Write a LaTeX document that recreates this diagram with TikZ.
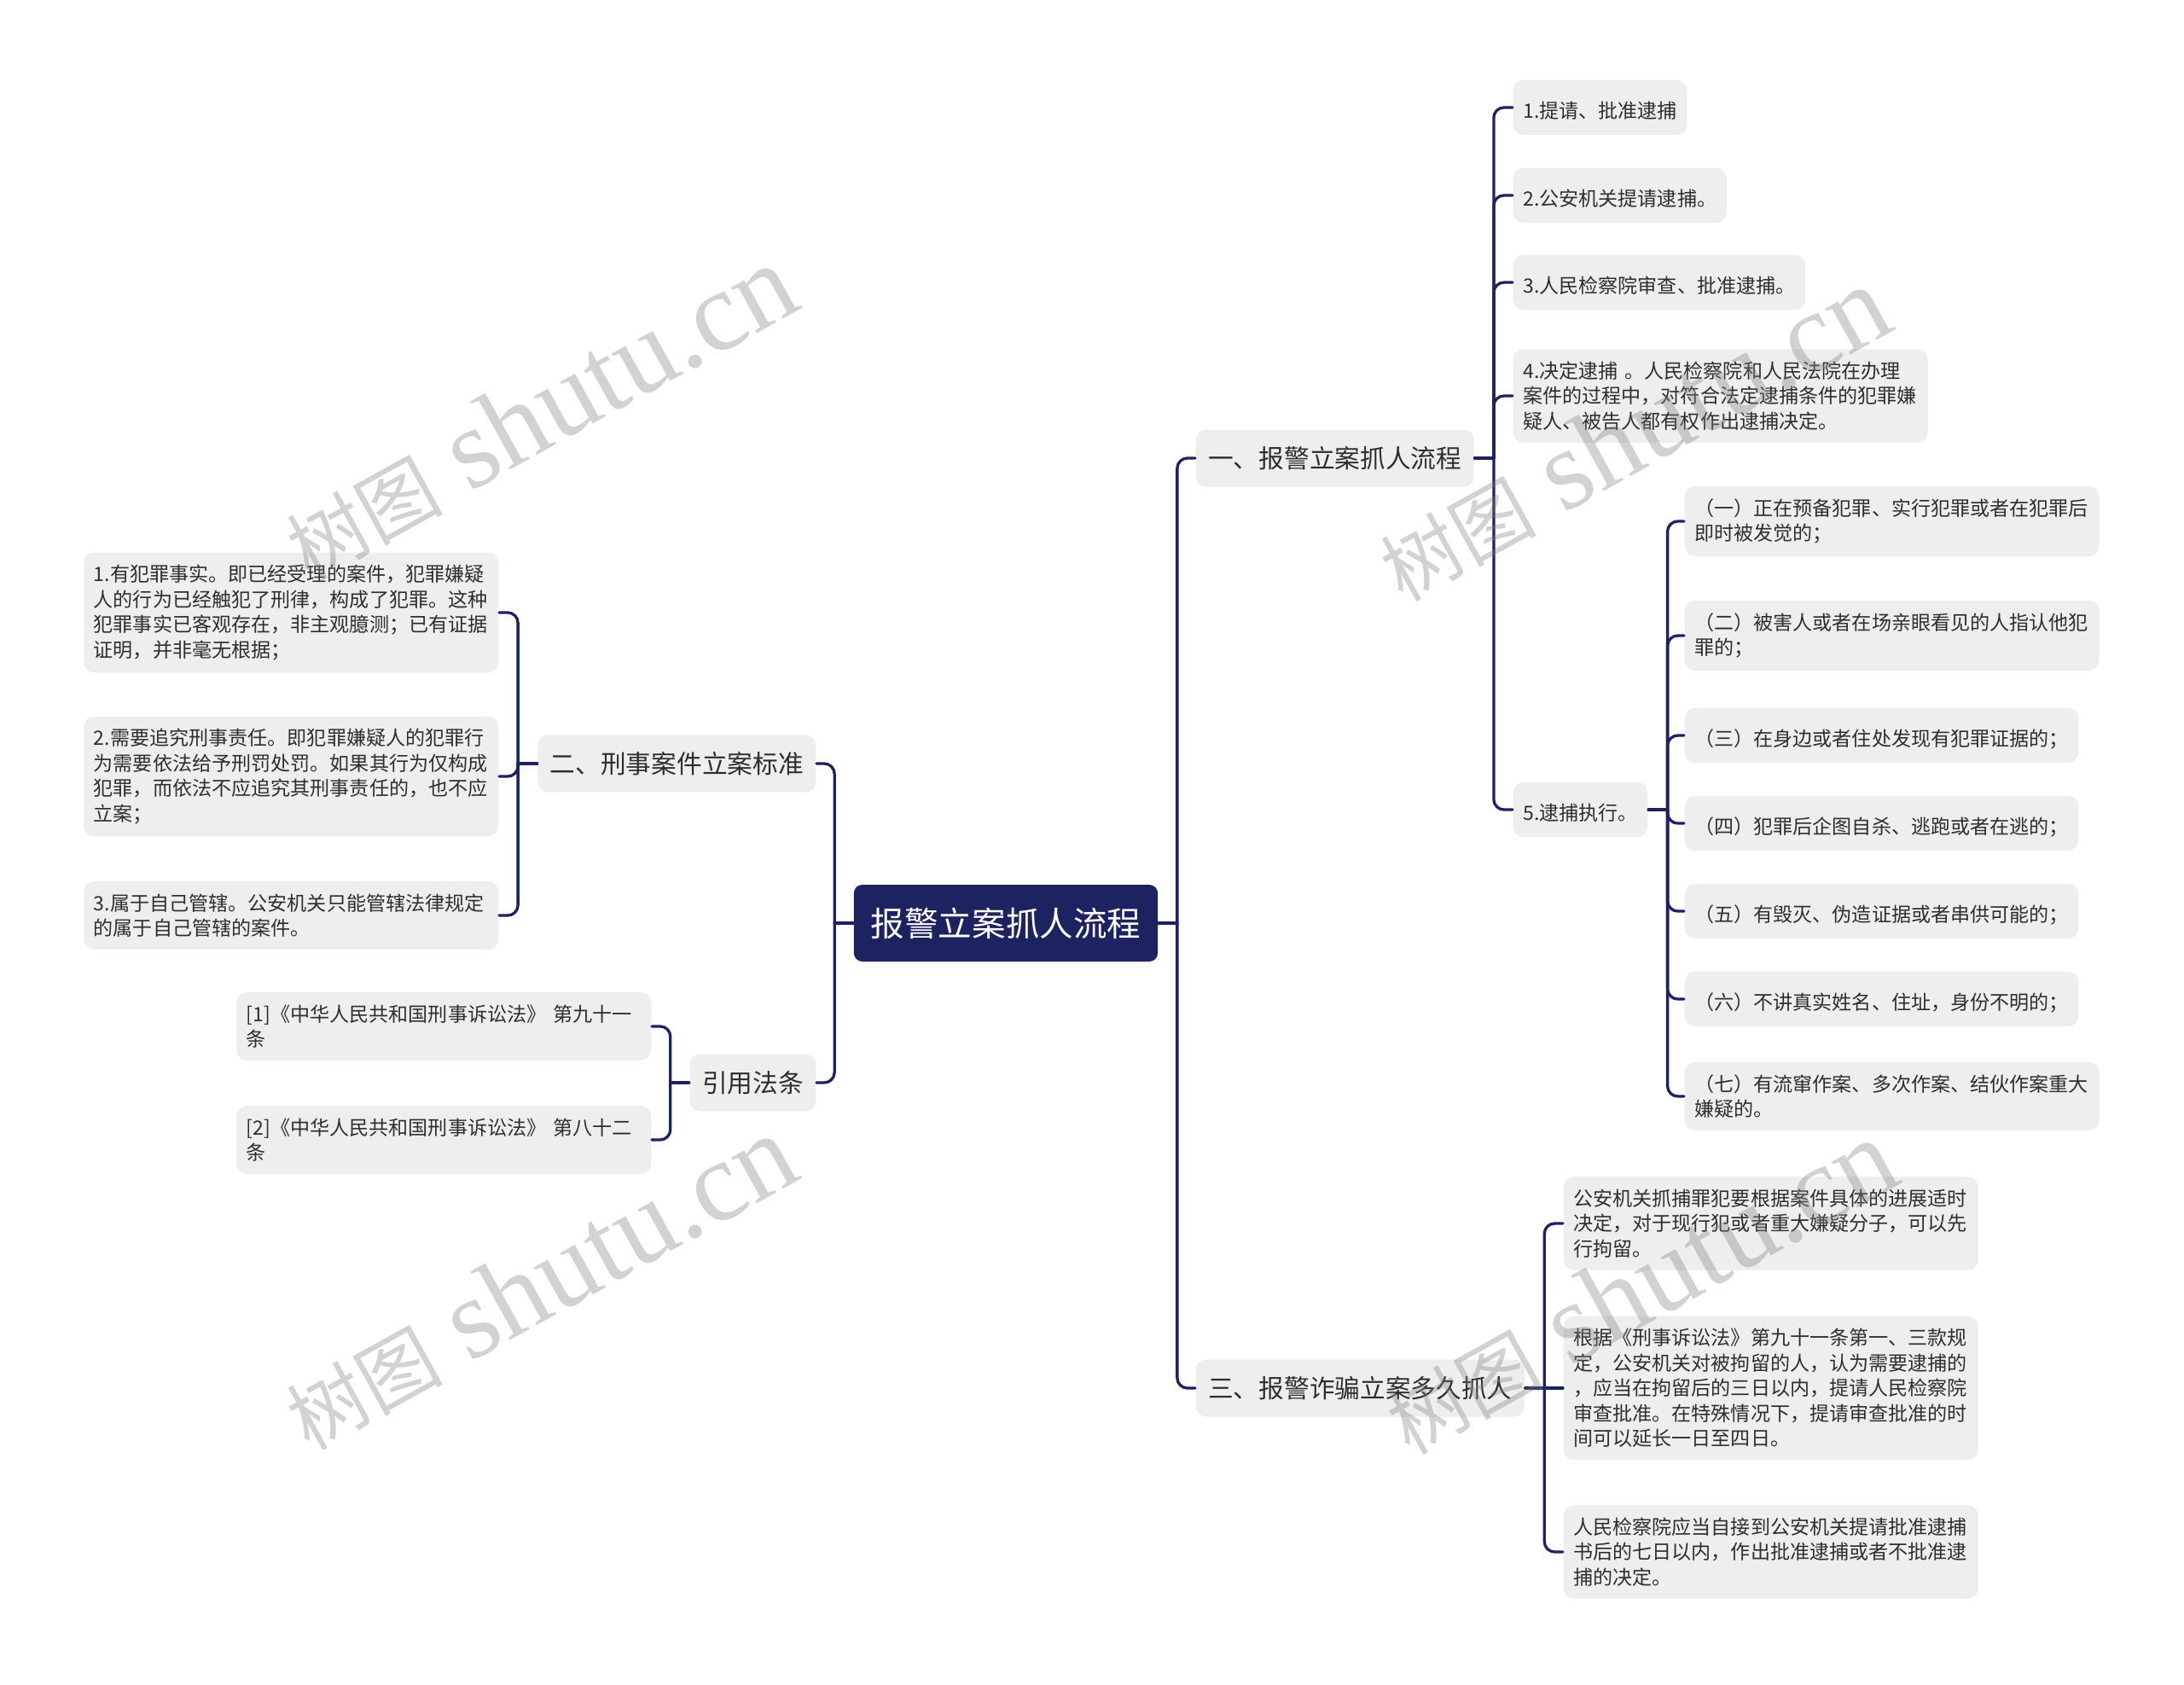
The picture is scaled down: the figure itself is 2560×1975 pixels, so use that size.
\documentclass[tikz,border=0pt]{standalone}
\usepackage{fontspec}
\setmainfont{Noto Sans CJK SC}
\newfontfamily\marklatin{Liberation Serif}
\usepackage{xcolor}
\usepackage{tikz}
\usetikzlibrary{calc}
\definecolor{Navy}{HTML}{1D2260}
\definecolor{Plate}{HTML}{EEEEEE}
\definecolor{Ink}{HTML}{2E2E2E}
\definecolor{Mark}{HTML}{808080}
\tikzset{
  link/.style={draw=Navy, line width=0.33mm, rounded corners=1.2mm, line cap=round},
  rootnode/.style={rounded corners=1mm, fill=Navy, text=white, minimum height=9mm, inner xsep=2mm, font=\fontsize{11.25}{13}\selectfont},
  topicnode/.style={rounded corners=1.2mm, fill=Plate, text=Ink, minimum height=6.7mm, inner xsep=1.45mm, font=\fontsize{8.45}{10}\selectfont},
  leafbase/.style={rounded corners=1.2mm, fill=Plate, text=Ink, inner xsep=1.15mm, inner ysep=1.45mm, font=\fontsize{6.57}{8.37}\selectfont},
  leafnode/.style={leafbase, text height=0.85em, text depth=0.15em},
  wideleaf/.style={leafbase, text width=46.3mm, align=left},
  wmark/.style={text=Mark, text opacity=0.35, inner sep=0pt, rotate=29, anchor=base west},
}

\begin{document}
\begin{tikzpicture}[x=0.1mm,y=-0.1mm]
\path[use as bounding box] (0,0) rectangle (2560,1975);
\fill[white] (0,0) rectangle (2560,1975);

\node[rootnode] (root) at (1179,1082) {报警立案抓人流程};

% main topics
\node[topicnode,anchor=west] (flow) at (1401,537) {一、报警立案抓人流程};
\node[topicnode,anchor=west] (fraud) at (1401,1627) {三、报警诈骗立案多久抓人};
\node[topicnode,anchor=east] (standard) at (957,895) {二、刑事案件立案标准};
\node[topicnode,anchor=east] (cite) at (957,1269) {引用法条};

% 一 steps
\foreach \n/\y/\txt in {1/126/{1.提请、批准逮捕}, 2/229/{2.公安机关提请逮捕。}, 3/331/{3.人民检察院审查、批准逮捕。}}
  \node[leafnode,anchor=west] (proc\n) at (1773,\y) {\txt};
\node[wideleaf,anchor=west] (proc4) at (1773,464) {4.决定逮捕~。人民检察院和人民法院在办理\\案件的过程中，对符合法定逮捕条件的犯罪嫌\\疑人、被告人都有权作出逮捕决定。};
\node[leafnode,anchor=west] (proc5) at (1773,949) {5.逮捕执行。};

% 5 cases
\foreach \n/\y/\txt in {1/611/{（一）正在预备犯罪、实行犯罪或者在犯罪后\\即时被发觉的；}, 2/745/{（二）被害人或者在场亲眼看见的人指认他犯\\罪的；}, 7/1285/{（七）有流窜作案、多次作案、结伙作案重大\\嫌疑的。}}
  \node[wideleaf,anchor=west] (case\n) at (1974,\y) {\txt};
\foreach \n/\y/\txt in {3/862/{（三）在身边或者住处发现有犯罪证据的；}, 4/965/{（四）犯罪后企图自杀、逃跑或者在逃的；}, 5/1068/{（五）有毁灭、伪造证据或者串供可能的；}, 6/1171/{（六）不讲真实姓名、住址，身份不明的；}}
  \node[leafnode,anchor=west] (case\n) at (1974,\y) {\txt};

% 三 details
\node[wideleaf,anchor=west] (time1) at (1832,1434) {公安机关抓捕罪犯要根据案件具体的进展适时\\决定，对于现行犯或者重大嫌疑分子，可以先\\行拘留。};
\node[wideleaf,anchor=west] (time2) at (1832,1627) {根据《刑事诉讼法》第九十一条第一、三款规\\定，公安机关对被拘留的人，认为需要逮捕的\\，应当在拘留后的三日以内，提请人民检察院\\审查批准。在特殊情况下，提请审查批准的时\\间可以延长一日至四日。};
\node[wideleaf,anchor=west] (time3) at (1832,1819) {人民检察院应当自接到公安机关提请批准逮捕\\书后的七日以内，作出批准逮捕或者不批准逮\\捕的决定。};

% 二 standards
\node[wideleaf,anchor=east] (std1) at (585,718) {1.有犯罪事实。即已经受理的案件，犯罪嫌疑\\人的行为已经触犯了刑律，构成了犯罪。这种\\犯罪事实已客观存在，非主观臆测；已有证据\\证明，并非毫无根据；};
\node[wideleaf,anchor=east] (std2) at (585,910) {2.需要追究刑事责任。即犯罪嫌疑人的犯罪行\\为需要依法给予刑罚处罚。如果其行为仅构成\\犯罪，而依法不应追究其刑事责任的，也不应\\立案；};
\node[wideleaf,anchor=east] (std3) at (585,1073) {3.属于自己管辖。公安机关只能管辖法律规定\\的属于自己管辖的案件。};

% laws
\node[wideleaf,anchor=east] (law1) at (764,1203) {[1]《中华人民共和国刑事诉讼法》~第九十一\\条};
\node[wideleaf,anchor=east] (law2) at (764,1336) {[2]《中华人民共和国刑事诉讼法》~第八十二\\条};

% junctions
\coordinate (rootR) at ($(root.east)+(2.2mm,0)$);
\coordinate (rootL) at ($(root.west)+(-2.2mm,0)$);
\coordinate (flowR) at ($(flow.east)+(2.25mm,0)$);
\coordinate (procR) at ($(proc5.east)+(2.25mm,0)$);
\coordinate (fraudR) at ($(fraud.east)+(2.25mm,0)$);
\coordinate (standardL) at ($(standard.west)+(-2.25mm,0)$);
\coordinate (citeL) at ($(cite.west)+(-2.2mm,0)$);

\draw[link] (root.east) -- (rootR);
\draw[link] (rootR) |- (flow.west);
\draw[link] (rootR) |- (fraud.west);
\draw[link] (root.west) -- (rootL);
\draw[link] (rootL) |- (standard.east);
\draw[link] (rootL) |- (cite.east);

\draw[link] (flow.east) -- (flowR);
\foreach \n in {1,...,5}
  \draw[link] (flowR) |- (proc\n.west);
\draw[link] (proc5.east) -- (procR);
\foreach \n in {1,...,7}
  \draw[link] (procR) |- (case\n.west);

\draw[link] (fraud.east) -- (fraudR);
\draw[link] (fraudR) |- (time1.west);
\draw[link] (fraudR) -- (time2.west);
\draw[link] (fraudR) |- (time3.west);

\draw[link] (standard.west) -- (standardL);
\foreach \n in {1,2,3}
  \draw[link] (standardL) |- (std\n.east);
\draw[link] (cite.west) -- (citeL);
\foreach \n in {1,2}
  \draw[link] (citeL) |- (law\n.east);

% watermarks
\foreach \x/\y [count=\k] in {362/682, 362/1702, 1644/707, 1652/1707}
  \node[wmark] (mark\k) at (\x,\y) {{\fontsize{26}{26}\selectfont 树图\hspace{0.35em}}{\marklatin\fontsize{38}{38}\selectfont shutu.cn}};
\end{tikzpicture}
\end{document}
